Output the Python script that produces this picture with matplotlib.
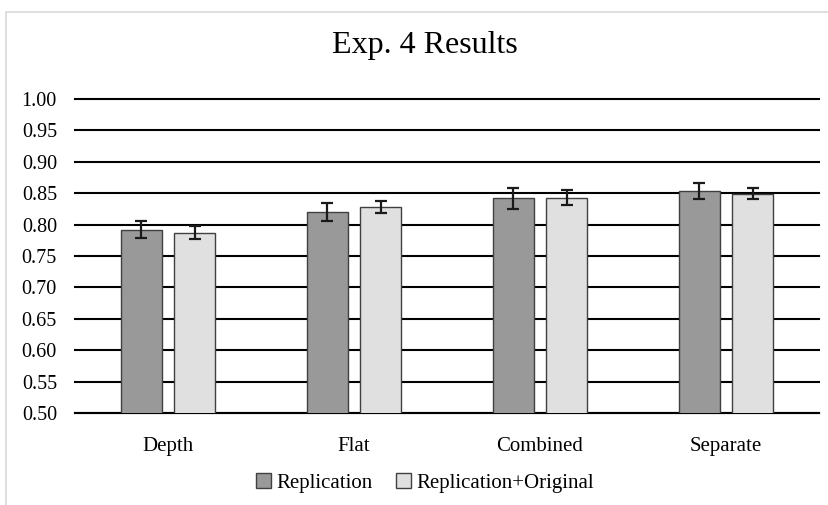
import matplotlib
matplotlib.use("Agg")
import matplotlib.pyplot as plt
import numpy as np
from matplotlib.patches import Rectangle

plt.rcParams["font.family"] = ["Liberation Serif", "DejaVu Serif"]

categories = ["Depth", "Flat", "Combined", "Separate"]
series_names = ["Replication", "Replication+Original"]
replication = [0.792, 0.820, 0.842, 0.854]
replication_err = [0.014, 0.015, 0.017, 0.013]
rep_orig = [0.787, 0.828, 0.843, 0.849]
rep_orig_err = [0.010, 0.010, 0.012, 0.009]
yticks = [0.50, 0.55, 0.60, 0.65, 0.70, 0.75, 0.80, 0.85, 0.90, 0.95, 1.00]

fig = plt.figure(figsize=(8.29, 5.05), dpi=100)
ax = fig.add_axes([75 / 829, 1 - 413 / 505, 744 / 829, 314 / 505])

# 外框
fig.patches.append(Rectangle((6 / 829, -0.01), 1.0, 1 - 12 / 505 + 0.01,
                             transform=fig.transFigure, fill=False,
                             edgecolor="#d9d9d9", linewidth=1.2))

x = np.arange(len(categories))
w = 0.225
off = w / 2 + 0.03
ax.bar(x - off, replication, w, color="#999999", edgecolor="#404040",
       linewidth=1.0, label=series_names[0], zorder=3)
ax.bar(x + off, rep_orig, w, color="#e0e0e0", edgecolor="#404040",
       linewidth=1.0, label=series_names[1], zorder=3)
ax.errorbar(x - off, replication, yerr=replication_err, fmt="none", ecolor="#1a1a1a",
            elinewidth=1.6, capsize=4.2, capthick=1.6, zorder=4)
ax.errorbar(x + off, rep_orig, yerr=rep_orig_err, fmt="none", ecolor="#1a1a1a",
            elinewidth=1.6, capsize=4.2, capthick=1.6, zorder=4)

ax.set_ylim(0.5, 1.0)
ax.set_xlim(-0.5, 3.5)
ax.set_yticks(yticks)
ax.set_yticklabels([f"{v:.2f}" for v in yticks], fontsize=14.5)
ax.set_xticks(x)
ax.set_xticklabels(categories, fontsize=15)
ax.tick_params(axis="x", length=0, pad=17)
ax.tick_params(axis="y", length=0, pad=13)
ax.grid(axis="y", color="black", linewidth=1.5, zorder=0)
for gl in ax.get_ygridlines():
    gl.set_clip_on(False)
for s in ["left", "right", "top"]:
    ax.spines[s].set_visible(False)
ax.spines["bottom"].set_linewidth(1.5)

fig.text(425 / 829, 1 - 45 / 505, "Exp. 4 Results", ha="center", va="center", fontsize=23)
fig.legend(loc="center", bbox_to_anchor=(425 / 829, 1 - 483 / 505), ncol=2,
           frameon=False, fontsize=15, handlelength=0.72, handleheight=0.72,
           handletextpad=0.25, columnspacing=1.1)

fig.savefig("out.png", dpi=100)
